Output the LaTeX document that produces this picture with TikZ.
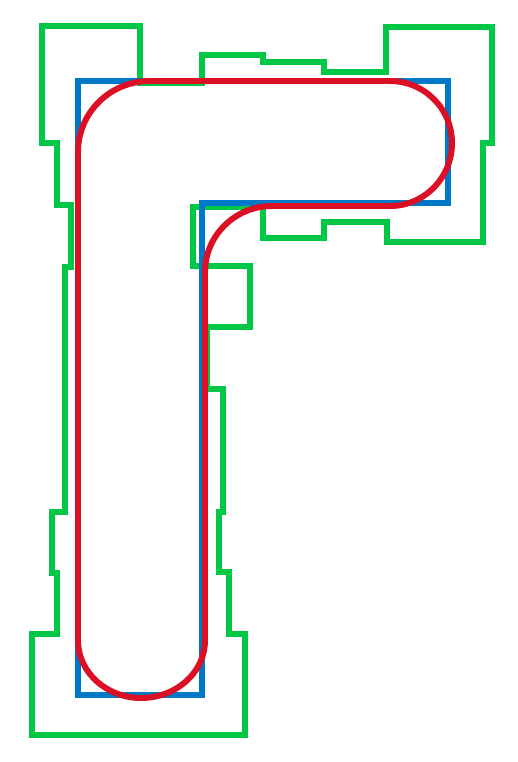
\documentclass[tikz,border=0pt]{standalone}
\usepackage{tikz}

\definecolor{outlinegreen}{HTML}{00C846}
\definecolor{tubeblue}{HTML}{0078C8}
\definecolor{pathred}{HTML}{DC1024}

\begin{document}
\begin{tikzpicture}[
    x=0.02cm, y=-0.02cm,
    outline/.style={draw=outlinegreen, line width=2.9pt, line join=miter},
    frame/.style={draw=tubeblue, line width=2.9pt, line join=miter},
    track/.style={draw=pathred, line width=3.4pt, line join=round}
]
\useasboundingbox (0,0) rectangle (518,762);
% outer boundary
\draw[outline] (42,26) -- (140,26) -- (140,83) -- (202,83) -- (202,55) -- (263,55)
    -- (263,62) -- (324,62) -- (324,72) -- (386,72) -- (386,27) -- (492,27)
    -- (492,143) -- (483,143) -- (483,242) -- (387,242) -- (387,222) -- (324,222)
    -- (324,238) -- (263,238) -- (263,207) -- (193,207) -- (193,266) -- (250,266)
    -- (250,327) -- (207,327) -- (207,389) -- (223,389) -- (223,512) -- (219,512)
    -- (219,572) -- (229,572) -- (229,634) -- (245,634) -- (245,735) -- (32,735)
    -- (32,634) -- (57,634) -- (57,573) -- (52,573) -- (52,512) -- (65,512)
    -- (65,267) -- (71,267) -- (71,205) -- (57,205) -- (57,143) -- (42,143) -- cycle;
% L-shaped frame
\draw[frame] (78,81) -- (448,81) -- (448,203) -- (202,203) -- (202,695) -- (78,695) -- cycle;
% rounded loop
\draw[track] (150,81) -- (390,81) to[out=0,in=90] (452,143) to[out=-90,in=0] (390,206)
    -- (272,206) to[out=180,in=90] (205,272) -- (205,640) to[out=-90,in=0] (141,698)
    to[out=180,in=-90] (78,640) -- (78,152) to[out=90,in=180] (150,81) -- cycle;
\end{tikzpicture}
\end{document}
